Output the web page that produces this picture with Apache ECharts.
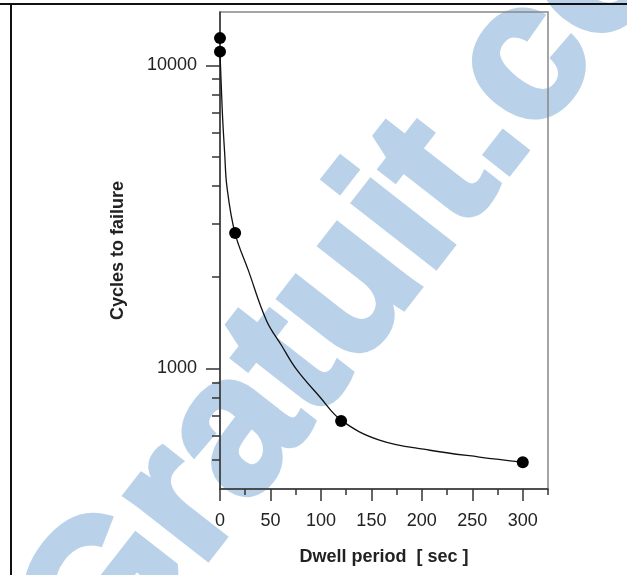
<!DOCTYPE html>
<html>
<head>
<meta charset="utf-8">
<script src="https://cdn.jsdelivr.net/npm/echarts@6/dist/echarts.min.js"></script>
<style>
html,body{margin:0;padding:0;background:#fff;}
#chart{width:627px;height:575px;}
</style>
</head>
<body>
<div id="chart"></div>
<script>
// Measured points
const pointX = [0, 0, 15, 120, 300];
const pointY = [12300, 11100, 2800, 670, 490];
// Fitted curve
const curveX = [0, 1.3, 2.7, 4.6, 6.9, 14.8, 28, 46, 61, 76, 99, 120, 158, 208, 257, 300];
const curveY = [11000, 8500, 6600, 5150, 3970, 2800, 2110, 1440, 1190, 990, 805, 675, 580, 537, 510, 491];
// Tick values
const xMajorTicks = [0, 50, 100, 150, 200, 250, 300];
const xMinorTicks = [25, 75, 125, 175, 225, 275, 325];
const yMajorTicks = [1000, 10000];
const yMinorTicks = [500, 600, 700, 800, 900, 2000, 3000, 4000, 5000, 6000, 7000, 8000, 9000];

const chart = echarts.init(document.getElementById('chart'));
const FONT = '"Liberation Sans", Arial, Helvetica, sans-serif';
const axisColor = '#333';
const plain = v => String(Math.round(v));

const option = {
  animation: false,
  backgroundColor: '#fff',
  graphic: [
    {
      type: 'text', x: 63, y: 656, rotation: 52 * Math.PI / 180, z: -10,
      style: { text: 'Gratuit.com', font: 'bold 196px ' + FONT, fill: '#b9d1e9', align: 'left', verticalAlign: 'middle',
               stroke: '#b9d1e9', lineWidth: 6 },
      silent: true
    },
    { type: 'line', shape: { x1: 0, y1: 4, x2: 627, y2: 4 }, style: { stroke: '#111', lineWidth: 2 }, z: 10 },
    { type: 'line', shape: { x1: 11, y1: 3, x2: 11, y2: 575 }, style: { stroke: '#111', lineWidth: 2 }, z: 10 }
  ],
  grid: {
    left: 220, right: 79, top: 12, bottom: 86,
    show: true, borderColor: '#888', borderWidth: 1.5, backgroundColor: 'transparent'
  },
  xAxis: [
    {
      type: 'value', min: 0, max: 325,
      name: 'Dwell period  [ sec ]', nameLocation: 'middle', nameGap: 59,
      nameTextStyle: { fontFamily: FONT, fontWeight: 'bold', fontSize: 18, color: '#222' },
      axisLine: { show: true, lineStyle: { color: axisColor, width: 1.5 } },
      axisTick: { show: true, length: 12, lineStyle: { color: axisColor, width: 1.5 }, customValues: xMajorTicks },
      axisLabel: { fontFamily: FONT, fontSize: 18, color: '#222', margin: 23, customValues: xMajorTicks, formatter: plain },
      splitLine: { show: false }
    },
    {
      type: 'value', min: 0, max: 325, position: 'bottom', gridIndex: 0,
      axisLine: { show: false },
      axisTick: { show: true, length: 6, lineStyle: { color: axisColor, width: 1.5 }, customValues: xMinorTicks },
      axisLabel: { show: false },
      splitLine: { show: false }
    }
  ],
  yAxis: [
    {
      type: 'log', logBase: 10, min: 400, max: 15000,
      name: 'Cycles to failure', nameLocation: 'middle', nameGap: 93,
      nameTextStyle: { fontFamily: FONT, fontWeight: 'bold', fontSize: 18, color: '#222' },
      axisLine: { show: true, lineStyle: { color: axisColor, width: 1.5 } },
      axisTick: { show: true, length: 14, lineStyle: { color: axisColor, width: 1.5 }, customValues: yMajorTicks },
      axisLabel: { fontFamily: FONT, fontSize: 18, color: '#222', margin: 23, customValues: yMajorTicks, formatter: plain },
      splitLine: { show: false }
    },
    {
      type: 'log', logBase: 10, min: 400, max: 15000, position: 'left',
      axisLine: { show: false },
      axisTick: { show: true, length: 8, lineStyle: { color: axisColor, width: 1.5 }, customValues: yMinorTicks },
      axisLabel: { show: false },
      splitLine: { show: false }
    }
  ],
  series: [
    {
      type: 'line', name: 'fit',
      data: curveX.map((x, i) => [x, curveY[i]]),
      smooth: 0.4, showSymbol: false, symbol: 'none',
      lineStyle: { color: '#111', width: 1.3 },
      z: 3
    },
    {
      type: 'scatter', name: 'data',
      data: pointX.map((x, i) => [x, pointY[i]]),
      symbol: 'circle', symbolSize: 12,
      itemStyle: { color: '#000', opacity: 1 },
      clip: false,
      z: 4
    }
  ]
};
chart.setOption(option);
</script>
</body>
</html>
